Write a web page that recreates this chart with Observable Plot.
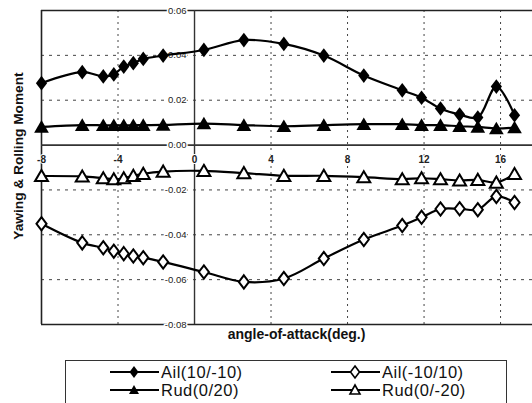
<!DOCTYPE html>
<html>
<head>
<meta charset="utf-8">
<script src="https://cdn.jsdelivr.net/npm/d3@7"></script>
<script src="https://cdn.jsdelivr.net/npm/@observablehq/plot@0.6"></script>
<style>
  html, body { margin: 0; padding: 0; background: #fff; }
  #wrap { position: relative; width: 532px; height: 403px; overflow: hidden; font-family: "Liberation Sans", Arial, sans-serif; }
  #chart { position: absolute; left: 0; top: 0; }
  #ytitle { position: absolute; left: 18px; top: 156px; transform: translate(-50%, -50%) rotate(-90deg); white-space: nowrap; font-size: 13.7px; font-weight: bold; color: #111; }
  #legend { position: absolute; left: 65px; top: 360px; width: 442px; height: 60px; border: 1px solid #333; box-sizing: border-box; }
  .item { position: absolute; height: 18px; display: flex; align-items: center; font-size: 16.5px; color: #111; letter-spacing: 0.5px; }
  .item svg { margin-right: 2px; }
</style>
</head>
<body>
<div id="wrap">
  <div id="chart"></div>
  <div id="ytitle"></div>
  <div id="legend"></div>
</div>
<script>
// ---- data ----
const aoa = [-8, -5.87, -4.77, -4.22, -3.70, -3.20, -2.68, -1.64, 0.49, 2.58, 4.67, 6.76, 8.85, 10.86, 11.87, 12.86, 13.86, 14.81, 15.78, 16.73];
const ailPos = [0.0276, 0.0325, 0.0306, 0.0315, 0.0350, 0.0365, 0.0384, 0.0399, 0.0424, 0.0468, 0.0451, 0.0399, 0.0310, 0.0244, 0.0211, 0.0163, 0.0136, 0.0123, 0.0261, 0.0133];
const ailNeg = [-0.0351, -0.0436, -0.0458, -0.0473, -0.0484, -0.0495, -0.0502, -0.0521, -0.0566, -0.0610, -0.0595, -0.0506, -0.0421, -0.0359, -0.0322, -0.0285, -0.0284, -0.0288, -0.0229, -0.0256];
const rudPos = [0.0081, 0.0089, 0.0088, 0.0088, 0.0088, 0.0088, 0.0089, 0.0090, 0.0096, 0.0089, 0.0084, 0.0089, 0.0093, 0.0093, 0.0089, 0.0089, 0.0084, 0.0081, 0.0074, 0.0078];
const rudNeg = [-0.0138, -0.0140, -0.0148, -0.0152, -0.0148, -0.0137, -0.0128, -0.0118, -0.0115, -0.0125, -0.0137, -0.0137, -0.0143, -0.0152, -0.0148, -0.0152, -0.0158, -0.0155, -0.0167, -0.0129];
const seriesNames = ["Ail(10/-10)", "Ail(-10/10)", "Rud(0/20)", "Rud(0/-20)"];
const xTicks = [-8, -4, 0, 4, 8, 12, 16];
const xTickLabels = ["-8", "-4", "0", "4", "8", "12", "16"];
const yTicks = [0.06, 0.04, 0.02, 0, -0.02, -0.04, -0.06, -0.08];
const yTickLabels = ["0.06", "0.04", "0.02", "0.00", "-0.02", "-0.04", "-0.06", "-0.08"];
const xTitle = "angle-of-attack(deg.)";
const yTitle = "Yawing & Rolling Moment";

// ---- build tables ----
const allSeries = [ailPos, ailNeg, rudPos, rudNeg];
const rows = [];
allSeries.forEach((vals, si) => vals.forEach((v, i) => rows.push({series: seriesNames[si], x: aoa[i], y: v})));
const bySeries = name => rows.filter(d => d.series === name);

// custom marker shapes
const diamondSym = {draw(ctx, size) { const r = Math.sqrt(size / Math.PI); const w = r * 0.8, h = r * 1.05; ctx.moveTo(0, -h); ctx.lineTo(w, 0); ctx.lineTo(0, h); ctx.lineTo(-w, 0); ctx.closePath(); }};
const triangleSym = {draw(ctx, size) { const r = Math.sqrt(size / Math.PI); const w = r * 1.08, top = r, bot = r * 0.85; ctx.moveTo(0, -top); ctx.lineTo(w, bot); ctx.lineTo(-w, bot); ctx.closePath(); }};

const gridY = yTicks.filter(v => v !== 0 && v !== 0.06 && v !== -0.08);
const gridX = xTicks.filter(v => v !== 0 && v !== -8);

const chart = Plot.plot({
  width: 532,
  height: 358,
  marginTop: 10,
  marginBottom: 34,
  marginLeft: 41,
  marginRight: 0,
  x: {domain: [-8, 17.67], axis: null},
  y: {domain: [-0.08, 0.06], axis: null},
  style: {fontFamily: "Liberation Sans, Arial, sans-serif", background: "#fff"},
  marks: [
    Plot.ruleY(gridY, {stroke: "#444", strokeWidth: 1, strokeDasharray: "3,5"}),
    Plot.ruleX(gridX, {stroke: "#444", strokeWidth: 1, strokeDasharray: "2,4"}),
    Plot.ruleY([0.06, -0.08], {stroke: "#222", strokeWidth: 1.6}),
    Plot.ruleX([-8], {stroke: "#222", strokeWidth: 1.6}),
    Plot.ruleY([0], {stroke: "#333", strokeWidth: 1.8}),
    Plot.ruleX([0], {stroke: "#333", strokeWidth: 1.4}),
    Plot.text(yTicks, {x: () => 0, y: d => d, text: (d, i) => yTickLabels[i], textAnchor: "end", dx: -8, fontSize: 9.5, fill: "#222", stroke: "#fff", strokeWidth: 3, paintOrder: "stroke"}),
    Plot.text(xTicks, {x: d => d, y: () => 0, text: (d, i) => xTickLabels[i], dy: 15, fontSize: 10, fontWeight: "bold", fill: "#222", stroke: "#fff", strokeWidth: 2, paintOrder: "stroke"}),
    ...seriesNames.map(n => Plot.line(bySeries(n), {x: "x", y: "y", stroke: "#000", strokeWidth: 2.2, curve: "catmull-rom"})),
    Plot.dot(bySeries(seriesNames[2]), {x: "x", y: "y", symbol: triangleSym, r: 6.8, fill: "#000", stroke: "none"}),
    Plot.dot(bySeries(seriesNames[3]), {x: "x", y: "y", symbol: triangleSym, r: 6, fill: "#fff", stroke: "#000", strokeWidth: 2}),
    Plot.dot(bySeries(seriesNames[0]), {x: "x", y: "y", symbol: diamondSym, r: 7, fill: "#000", stroke: "none"}),
    Plot.dot(bySeries(seriesNames[1]), {x: "x", y: "y", symbol: diamondSym, r: 6.3, fill: "#fff", stroke: "#000", strokeWidth: 2}),
    Plot.text([xTitle], {frameAnchor: "bottom", dx: 9.5, dy: 14, fontSize: 14, fontWeight: "bold", fill: "#111", letterSpacing: "1px"})
  ]
});
document.getElementById("chart").appendChild(chart);
document.getElementById("ytitle").textContent = yTitle;

// ---- legend ----
const legend = document.getElementById("legend");
const legendPos = [[44, 2], [265, 2], [44, 20], [265, 20]];
const legendMarks = [
  {shape: "diamond", fill: "#000"},
  {shape: "diamond", fill: "#fff"},
  {shape: "triangle", fill: "#000"},
  {shape: "triangle", fill: "#fff"}
];
seriesNames.forEach((name, i) => {
  const div = document.createElement("div");
  div.className = "item";
  div.style.left = legendPos[i][0] + "px";
  div.style.top = legendPos[i][1] + "px";
  const m = legendMarks[i];
  const sw = m.fill === "#000" ? 0 : 1.6;
  const shape = m.shape === "diamond"
    ? `<path d="M24,3 L28.5,9 L24,15 L19.5,9 Z" fill="${m.fill}" stroke="#000" stroke-width="${sw}"/>`
    : `<path d="M24,4 L29,13 L19,13 Z" fill="${m.fill}" stroke="#000" stroke-width="${sw}"/>`;
  div.innerHTML = `<svg width="49" height="18"><line x1="0" y1="9" x2="49" y2="9" stroke="#000" stroke-width="1.8"/>${shape}</svg><span>${name}</span>`;
  legend.appendChild(div);
});
</script>
</body>
</html>
